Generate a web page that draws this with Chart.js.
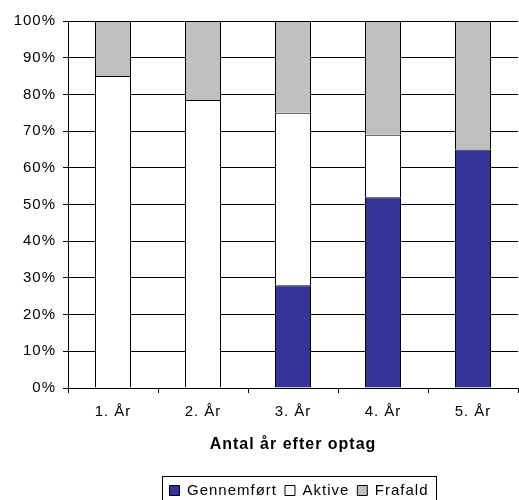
<!DOCTYPE html>
<html>
<head>
<meta charset="utf-8">
<script src="https://cdn.jsdelivr.net/npm/chart.js@4/dist/chart.umd.min.js"></script>
<style>
  html, body { margin: 0; padding: 0; background: #fff; }
  #wrap { width: 519px; height: 500px; }
</style>
</head>
<body>
<div id="wrap"><canvas id="myChart" width="519" height="500"></canvas></div>
<script>
const xValues = ["1. År", "2. År", "3. År", "4. År", "5. År"];
const gennemfoert = [0, 0, 28, 52, 65];
const aktive = [85, 78.5, 47, 17, 0];
const frafald = [15, 21.5, 25, 31, 35];
const seriesNames = ["Gennemført", "Aktive", "Frafald"];
const barColors = ["#333399", "#ffffff", "#c0c0c0"];

const font = { family: "'Liberation Sans', Arial, sans-serif", size: 15 };

// the original text is a bit wide, so add some letter spacing
const spacing = {
    id: "spacing",
    beforeLayout(chart) { chart.ctx.letterSpacing = "1px"; },
    beforeDraw(chart) { chart.ctx.letterSpacing = "1px"; }
};

// legend sits right of centre and has a frame round it
const legendBox = {
    id: "legendBox",
    afterLayout(chart) {
        const l = chart.legend;
        l.left += 40; l.right += 40;
        l.top += 8; l.bottom += 8;
    },
    afterDraw(chart) {
        const hb = chart.legend.legendHitBoxes;
        if (!hb || !hb.length) return;
        const left = Math.min(...hb.map(b => b.left)) - 7;
        const right = Math.max(...hb.map(b => b.left + b.width)) + 8;
        const top = hb[0].top - 7;
        const ctx = chart.ctx;
        ctx.save();
        ctx.strokeStyle = "#000";
        ctx.lineWidth = 1;
        ctx.strokeRect(Math.round(left) + 0.5, Math.round(top) + 0.5, Math.round(right - left), 40);
        ctx.restore();
    }
};

new Chart("myChart", {
    type: "bar",
    data: {
        labels: xValues,
        datasets: [gennemfoert, aktive, frafald].map((d, i) => ({
            label: seriesNames[i],
            data: d,
            backgroundColor: barColors[i],
            borderColor: "#000",
            borderWidth: 1,
            barPercentage: 0.4,
            categoryPercentage: 1
        }))
    },
    options: {
        responsive: false,
        animation: false,
        layout: { padding: { top: 21, right: 1, left: 0, bottom: 0 } },
        scales: {
            x: {
                stacked: true,
                grid: { drawOnChartArea: false, color: "#000", tickLength: 5 },
                border: { color: "#000" },
                ticks: { color: "#000", font: font, padding: 10 },
                title: {
                    display: true,
                    text: "Antal år efter optag",
                    color: "#000",
                    font: { family: font.family, size: 16, weight: "bold" },
                    padding: { top: 4, bottom: 13 }
                },
                afterFit(scale) { scale.height = 79; }
            },
            y: {
                stacked: true,
                min: 0,
                max: 100,
                ticks: {
                    stepSize: 10,
                    color: "#000",
                    font: font,
                    padding: 7,
                    callback: v => v + "%"
                },
                grid: { color: "#000", tickLength: 5 },
                border: { color: "#000" },
                afterFit(scale) { scale.width = 68; }
            }
        },
        plugins: {
            legend: {
                position: "bottom",
                labels: {
                    color: "#000",
                    font: font,
                    boxWidth: 10,
                    boxHeight: 10,
                    padding: 8
                }
            },
            tooltip: { enabled: false }
        }
    },
    plugins: [spacing, legendBox]
});
</script>
</body>
</html>
